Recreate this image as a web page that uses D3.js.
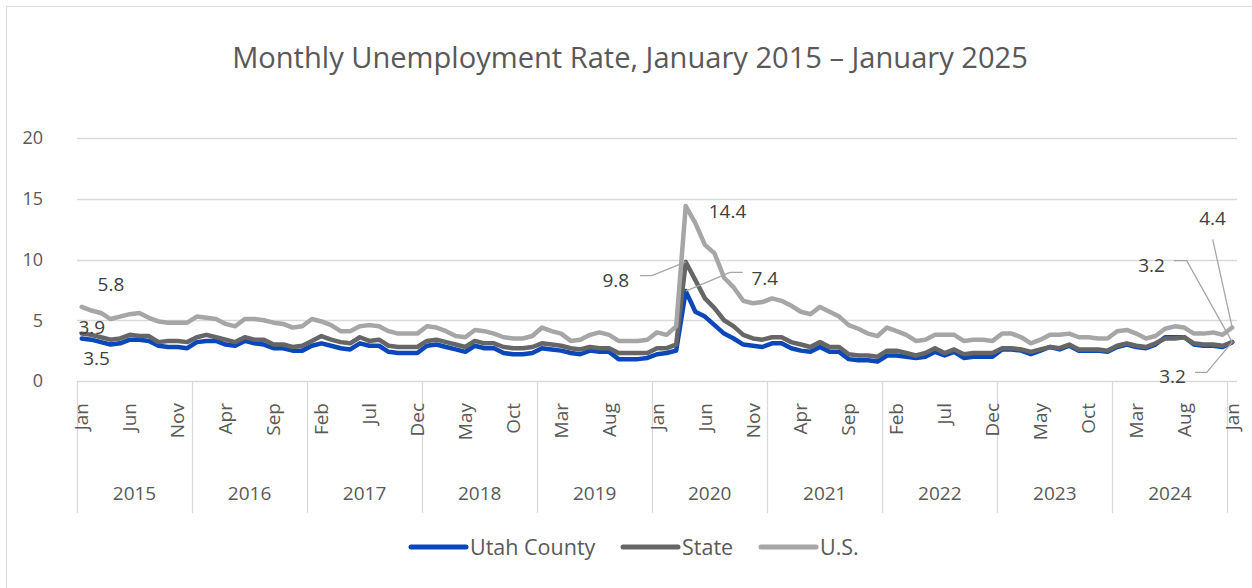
<!DOCTYPE html>
<html>
<head>
<meta charset="utf-8">
<script src="https://cdn.jsdelivr.net/npm/d3@7"></script>
<style>
  html, body { margin: 0; padding: 0; background: #fff; }
  svg { display: block; font-family: "Open Sans", sans-serif; }
</style>
</head>
<body>
<svg width="1252" height="588"></svg>
<script>
// Jan 2015 .. Jan 2025, one value per month
const years = [2015, 2016, 2017, 2018, 2019, 2020, 2021, 2022, 2023, 2024, 2025];
const monthNames = ["Jan", "Feb", "Mar", "Apr", "May", "Jun", "Jul", "Aug", "Sep", "Oct", "Nov", "Dec"];
const yTicks = [0, 5, 10, 15, 20];

const utahCounty = [
    3.5, 3.4, 3.2, 3.0, 3.1, 3.4, 3.4, 3.3, 2.9, 2.8, 2.8, 2.7,
    3.2, 3.3, 3.3, 3.0, 2.9, 3.3, 3.1, 3.0, 2.7, 2.7, 2.5, 2.5,
    2.9, 3.1, 2.9, 2.7, 2.6, 3.1, 2.9, 2.9, 2.4, 2.3, 2.3, 2.3,
    2.9, 3.0, 2.8, 2.6, 2.4, 2.9, 2.7, 2.7, 2.3, 2.2, 2.2, 2.3,
    2.7, 2.6, 2.5, 2.3, 2.2, 2.5, 2.4, 2.4, 1.8, 1.8, 1.8, 1.9,
    2.2, 2.3, 2.5, 7.4, 5.7, 5.3, 4.6, 3.9, 3.5, 3.0, 2.9, 2.8,
    3.1, 3.1, 2.7, 2.5, 2.4, 2.8, 2.4, 2.4, 1.8, 1.7, 1.7, 1.6,
    2.1, 2.1, 2.0, 1.9, 2.0, 2.4, 2.1, 2.4, 1.9, 2.0, 2.0, 2.0,
    2.6, 2.6, 2.5, 2.2, 2.5, 2.8, 2.6, 2.9, 2.5, 2.5, 2.5, 2.4,
    2.8, 3.0, 2.8, 2.7, 3.0, 3.6, 3.6, 3.6, 3.0, 2.9, 2.9, 2.8,
    3.2
];
const state = [
    3.9, 3.8, 3.6, 3.4, 3.5, 3.8, 3.7, 3.7, 3.2, 3.3, 3.3, 3.2,
    3.6, 3.8, 3.6, 3.4, 3.2, 3.6, 3.4, 3.4, 3.0, 3.0, 2.8, 2.9,
    3.3, 3.7, 3.4, 3.2, 3.1, 3.6, 3.3, 3.4, 2.9, 2.8, 2.8, 2.8,
    3.3, 3.4, 3.2, 3.0, 2.8, 3.3, 3.1, 3.1, 2.8, 2.7, 2.7, 2.8,
    3.1, 3.0, 2.9, 2.7, 2.6, 2.8, 2.7, 2.7, 2.3, 2.3, 2.3, 2.3,
    2.7, 2.7, 3.0, 9.8, 8.3, 6.8, 6.0, 5.0, 4.5, 3.8, 3.5, 3.4,
    3.6, 3.6, 3.2, 3.0, 2.8, 3.2, 2.8, 2.8, 2.2, 2.1, 2.1, 2.0,
    2.5, 2.5, 2.3, 2.1, 2.3, 2.7, 2.3, 2.6, 2.2, 2.3, 2.3, 2.3,
    2.7, 2.7, 2.6, 2.4, 2.6, 2.8, 2.7, 3.0, 2.6, 2.6, 2.6, 2.5,
    2.9, 3.1, 2.9, 2.8, 3.1, 3.5, 3.5, 3.6, 3.1, 3.0, 3.0, 2.9,
    3.2
];
const us = [
    6.1, 5.8, 5.6, 5.1, 5.3, 5.5, 5.6, 5.2, 4.9, 4.8, 4.8, 4.8,
    5.3, 5.2, 5.1, 4.7, 4.5, 5.1, 5.1, 5.0, 4.8, 4.7, 4.4, 4.5,
    5.1, 4.9, 4.6, 4.1, 4.1, 4.5, 4.6, 4.5, 4.1, 3.9, 3.9, 3.9,
    4.5, 4.4, 4.1, 3.7, 3.6, 4.2, 4.1, 3.9, 3.6, 3.5, 3.5, 3.7,
    4.4, 4.1, 3.9, 3.3, 3.4, 3.8, 4.0, 3.8, 3.3, 3.3, 3.3, 3.4,
    4.0, 3.8, 4.5, 14.4, 13.0, 11.2, 10.5, 8.5, 7.7, 6.6, 6.4, 6.5,
    6.8, 6.6, 6.2, 5.7, 5.5, 6.1, 5.7, 5.3, 4.6, 4.3, 3.9, 3.7,
    4.4, 4.1, 3.8, 3.3, 3.4, 3.8, 3.8, 3.8, 3.3, 3.4, 3.4, 3.3,
    3.9, 3.9, 3.6, 3.1, 3.4, 3.8, 3.8, 3.9, 3.6, 3.6, 3.5, 3.5,
    4.1, 4.2, 3.9, 3.5, 3.7, 4.3, 4.5, 4.4, 3.9, 3.9, 4.0, 3.8,
    4.4
];

const series = [
    { name: "Utah County", values: utahCounty, color: "#0a47b8" },
    { name: "State", values: state, color: "#666666" },
    { name: "U.S.", values: us, color: "#a6a6a6" }
];

// month index -> category
const months = utahCounty.map((d, i) => ({
    i: i,
    month: monthNames[i % 12],
    year: years[Math.floor(i / 12)]
}));

const svg = d3.select("svg");
const textColor = "#595959";
const gridColor = "#d9d9d9";

// chart area border (extends past the bottom and right edge)
svg.append("rect")
    .attr("x", 6.5).attr("y", 6.5)
    .attr("width", 1300).attr("height", 700)
    .attr("fill", "none")
    .attr("stroke", gridColor);

const x = d3.scaleBand()
    .domain(months.map(d => d.i))
    .range([77, 1237]);
const cx = i => x(i) + x.bandwidth() / 2;

const y = d3.scaleLinear()
    .domain([0, 20])
    .range([381, 138]);

// title, fitted to the reference width
const title = svg.append("text")
    .attr("x", 630).attr("y", 68)
    .attr("text-anchor", "middle")
    .attr("fill", textColor)
    .attr("font-size", 28)
    .text("Monthly Unemployment Rate, January 2015 \u2013 January 2025");
const tw = title.node().getComputedTextLength();
title.attr("font-size", 28 * 796 / tw);

// gridlines and y labels
svg.append("g").selectAll("line")
    .data(yTicks)
    .join("line")
    .attr("x1", 77).attr("x2", 1237)
    .attr("y1", d => Math.round(y(d)) + 0.5)
    .attr("y2", d => Math.round(y(d)) + 0.5)
    .attr("stroke", gridColor)
    .attr("stroke-width", 1.3);

svg.append("g").selectAll("text")
    .data(yTicks)
    .join("text")
    .attr("x", 43)
    .attr("y", d => y(d))
    .attr("dy", "0.35em")
    .attr("text-anchor", "end")
    .attr("fill", textColor)
    .attr("font-size", 18)
    .text(d => d);

// year separators (group boundaries)
const boundaries = years.map((yr, k) => k * 12);
svg.append("g").selectAll("line")
    .data(boundaries)
    .join("line")
    .attr("x1", d => Math.round(x(d)) + 0.5)
    .attr("x2", d => Math.round(x(d)) + 0.5)
    .attr("y1", 381).attr("y2", 513)
    .attr("stroke", gridColor)
    .attr("stroke-width", 1.3);

// month labels, every fifth month
svg.append("g").selectAll("text")
    .data(months.filter(d => d.i % 5 === 0))
    .join("text")
    .attr("transform", d => `translate(${cx(d.i)},403) rotate(-90)`)
    .attr("dy", "0.35em")
    .attr("text-anchor", "end")
    .attr("fill", textColor)
    .attr("font-size", 19)
    .text(d => d.month);

// year labels (2025 group has one month and no label)
const yearGroups = d3.groups(months, d => d.year).filter(g => g[1].length === 12);
svg.append("g").selectAll("text")
    .data(yearGroups)
    .join("text")
    .attr("x", g => (x(g[1][0].i) + x(g[1][11].i) + x.bandwidth()) / 2)
    .attr("y", 493)
    .attr("dy", "0.35em")
    .attr("text-anchor", "middle")
    .attr("fill", textColor)
    .attr("font-size", 19)
    .text(g => g[0]);

// lines
const line = d3.line()
    .x((d, i) => cx(i))
    .y(d => y(d));

svg.append("g").selectAll("path")
    .data(series)
    .join("path")
    .attr("d", s => line(s.values))
    .attr("fill", "none")
    .attr("stroke", s => s.color)
    .attr("stroke-width", 4.5)
    .attr("stroke-linejoin", "round")
    .attr("stroke-linecap", "round");

// data labels: offsets from the point, optional leader line
const dataLabels = [
    { s: 2, i: 1, dx: 19.6, dy: -19.5 },
    { s: 1, i: 0, dx: 10, dy: 0 },
    { s: 0, i: 0, dx: 14.7, dy: 26.5 },
    { s: 1, i: 63, dx: -70, dy: 25, leader: [[-45.8, 13.6], [-33.8, 13.6]] },
    { s: 0, i: 63, dx: 79, dy: -6, leader: [[57, -18.8], [44.2, -18.8]] },
    { s: 2, i: 63, dx: 41.7, dy: 12 },
    { s: 2, i: 120, dx: -19.7, dy: -102.5, leader: [[-19.5, -88.2]] },
    { s: 1, i: 120, dx: -80.7, dy: -70.1, leader: [[-58.2, -81.4], [-45.5, -81.4]] },
    { s: 0, i: 120, dx: -59.7, dy: 40.9, leader: [[-37.2, 30.2], [-25.5, 30.2]] }
];

const lg = svg.append("g");
dataLabels.forEach(l => {
    const v = series[l.s].values[l.i];
    const px = cx(l.i), py = y(v);
    if (l.leader) {
        const pts = l.leader.map(p => [px + p[0], py + p[1]]).concat([[px, py]]);
        lg.append("path")
            .attr("d", d3.line()(pts))
            .attr("fill", "none")
            .attr("stroke", "#a6a6a6")
            .attr("stroke-width", 1.3);
    }
    lg.append("text")
        .attr("x", px + l.dx)
        .attr("y", py + l.dy)
        .attr("text-anchor", "middle")
        .attr("fill", "#404040")
        .attr("font-size", 19)
        .text(v.toFixed(1));
});

// legend
const legendX = [411, 623, 761];
const legend = svg.append("g").selectAll("g")
    .data(series)
    .join("g")
    .attr("transform", (s, k) => `translate(${legendX[k]},547)`);
legend.append("line")
    .attr("x1", 0).attr("x2", 55)
    .attr("stroke", s => s.color)
    .attr("stroke-width", 5)
    .attr("stroke-linecap", "round");
legend.append("text")
    .attr("x", 59)
    .attr("dy", "0.35em")
    .attr("fill", textColor)
    .attr("font-size", 21.5)
    .text(s => s.name);
</script>
</body>
</html>
